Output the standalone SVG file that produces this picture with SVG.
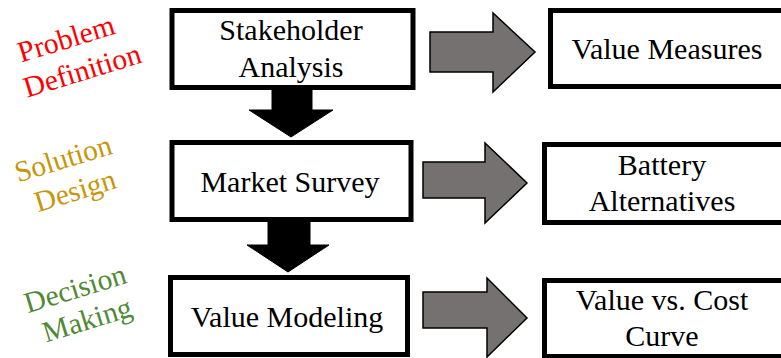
<svg xmlns="http://www.w3.org/2000/svg" width="781" height="358" viewBox="0 0 781 358">
<style>
.box{fill:#fff;stroke:#000;stroke-width:5}
.t{font-size:30px;fill:#000;text-anchor:middle}
.lab{font-size:29.5px;text-anchor:middle}
.ga{fill:#767171;stroke:#000;stroke-width:1.5;stroke-linejoin:miter}
.ba{fill:#000;stroke:#000;stroke-width:1}
</style>
<rect width="781" height="358" fill="#fff"/>
<g id="phase-labels">
<g id="problem-definition" fill="#ff0000">
<text class="lab" font-family="Times New Roman, serif" transform="translate(69,48) rotate(-17)">Problem</text>
<text class="lab" font-family="Times New Roman, serif" transform="translate(85,80) rotate(-17)">Definition</text>
</g>
<g id="solution-design" fill="#c8960a">
<text class="lab" font-family="Times New Roman, serif" transform="translate(66,168) rotate(-17)">Solution</text>
<text class="lab" font-family="Times New Roman, serif" transform="translate(78,200) rotate(-17)">Design</text>
</g>
<g id="decision-making" fill="#4f8a35">
<text class="lab" font-family="Times New Roman, serif" transform="translate(78,298) rotate(-17)">Decision</text>
<text class="lab" font-family="Times New Roman, serif" transform="translate(90,329) rotate(-17)">Making</text>
</g>
</g>
<g id="connectors">
<polygon class="ba" points="272,90 312,90 312,110 333,110 291,137 249,110 272,110"/>
<polygon class="ba" points="268,222 310,222 310,245 329,245 288,272 247,245 268,245"/>
<polygon class="ga" points="430,32 493,32 493,13 535,52 493,92 493,72 430,72"/>
<polygon class="ga" points="423,162 485,162 485,143 527,183 485,223 485,198 423,198"/>
<polygon class="ga" points="423,292 487,292 487,278 527,318 487,357 487,328 423,328"/>
</g>
<g id="stakeholder-analysis">
<rect class="box" x="172" y="10.5" width="241" height="77"/>
<text class="t" font-family="Times New Roman, serif" x="291" y="40">Stakeholder</text>
<text class="t" font-family="Times New Roman, serif" x="291" y="77">Analysis</text>
</g>
<g id="market-survey">
<rect class="box" x="172" y="142.5" width="239" height="77"/>
<text class="t" font-family="Times New Roman, serif" x="290" y="192">Market Survey</text>
</g>
<g id="value-modeling">
<rect class="box" x="170.5" y="277.5" width="237" height="77"/>
<text class="t" font-family="Times New Roman, serif" x="287" y="327">Value Modeling</text>
</g>
<g id="value-measures">
<rect class="box" x="550.5" y="10.5" width="240" height="76"/>
<text class="t" font-family="Times New Roman, serif" x="667" y="59">Value Measures</text>
</g>
<g id="battery-alternatives">
<rect class="box" x="544.5" y="144.5" width="246" height="78"/>
<text class="t" font-family="Times New Roman, serif" x="662" y="175">Battery</text>
<text class="t" font-family="Times New Roman, serif" x="662" y="211">Alternatives</text>
</g>
<g id="value-cost-curve">
<rect class="box" x="544.5" y="280.5" width="246" height="76"/>
<text class="t" font-family="Times New Roman, serif" x="662" y="310">Value vs. Cost</text>
<text class="t" font-family="Times New Roman, serif" x="662" y="346">Curve</text>
</g>
</svg>
